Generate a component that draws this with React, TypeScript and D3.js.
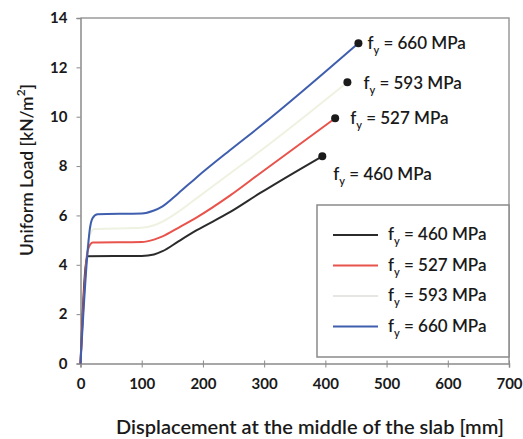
import * as d3 from 'd3';
import { useEffect, useRef } from 'react';

const X_TICKS = [0, 100, 200, 300, 400, 500, 600, 700];
const Y_TICKS = [0, 2, 4, 6, 8, 10, 12, 14];

const STEEL_GRADES = ['460', '527', '593', '660'];
const SERIES_COLORS = ['#2b2b2b', '#e8534c', '#eef2e0', '#3f5fae'];

const disp460 = [0, 11, 100, 120, 134, 160, 190, 244, 293, 395];
const load460 = [0, 4.35, 4.36, 4.42, 4.55, 4.95, 5.4, 6.13, 6.9, 8.4];

const disp527 = [0, 12, 20, 100, 120, 134, 160, 190, 244, 293, 416];
const load527 = [0, 4.6, 4.9, 4.92, 5.02, 5.15, 5.5, 5.92, 6.8, 7.7, 9.94];

const disp593 = [0, 13, 22, 100, 120, 134, 160, 190, 244, 293, 436];
const load593 = [0, 5.0, 5.45, 5.5, 5.6, 5.75, 6.15, 6.7, 7.7, 8.6, 11.4];

const disp660 = [0, 11, 15, 20, 28, 100, 120, 134, 160, 190, 244, 293, 454];
const load660 = [0, 4.35, 5.4, 5.9, 6.05, 6.08, 6.2, 6.37, 6.9, 7.55, 8.64, 9.6, 12.98];

const SERIES = [
    { disp: disp460, load: load460 },
    { disp: disp527, load: load527 },
    { disp: disp593, load: load593 },
    { disp: disp660, load: load660 },
];

const FONT = 'Lato, "Open Sans", sans-serif';

export default function App() {
    const svgRef = useRef<SVGSVGElement>(null);

    useEffect(() => {
        if (!svgRef.current) {
            return;
        }
        const svg = d3.select(svgRef.current);
        svg.selectAll('*').remove();

        const width = 523;
        const height = 439;
        const x = d3.scaleLinear().domain([0, 700]).range([80.5, 509]);
        const y = d3.scaleLinear().domain([0, 14]).range([363.5, 18]);
        const axisColor = '#8a8a8a';

        svg.attr('width', width).attr('height', height);
        svg.append('rect').attr('width', width).attr('height', height).attr('fill', '#fff');

        // plot frame (top and right)
        svg.append('path')
            .attr('d', `M${x(0)},${y(14)}H${x(700)}V${y(0)}`)
            .attr('fill', 'none')
            .attr('stroke', '#9a9a9a')
            .attr('stroke-width', 1.5);

        const xAxis = svg
            .append('g')
            .attr('transform', `translate(0,${y(0)})`)
            .call(d3.axisBottom(x).tickValues(X_TICKS).tickSize(4).tickPadding(11));
        const yAxis = svg
            .append('g')
            .attr('transform', `translate(${x(0)},0)`)
            .call(d3.axisLeft(y).tickValues(Y_TICKS).tickSize(4).tickPadding(9));

        for (const ax of [xAxis, yAxis]) {
            ax.select('.domain').attr('stroke', axisColor).attr('stroke-width', 1.5);
            ax.selectAll('.tick line').attr('stroke', axisColor);
            ax.selectAll('.tick text')
                .attr('fill', '#1a1a1a')
                .attr('font-family', FONT)
                .attr('font-weight', 700)
                .attr('font-size', 15);
        }
        xAxis.selectAll('.tick line').attr('y1', -3);

        const line = d3
            .line<[number, number]>()
            .x((d) => x(d[0]))
            .y((d) => y(d[1]))
            .curve(d3.curveMonotoneX);

        // pale series first, so the others draw on top
        [2, 0, 1, 3].forEach((i) => {
            const s = SERIES[i];
            const pts = s.disp.map((d, k) => [d, s.load[k]] as [number, number]);
            svg.append('path')
                .attr('d', line(pts))
                .attr('fill', 'none')
                .attr('stroke', SERIES_COLORS[i])
                .attr('stroke-width', 2);
        });

        const fyLabel = (g: d3.Selection<SVGTextElement, unknown, null, undefined>, grade: string) => {
            g.append('tspan').text('f');
            g.append('tspan').attr('font-size', 11).attr('dy', 5).text('y');
            g.append('tspan').attr('dy', -5).text(` = ${grade} MPa`);
        };

        // end-point markers and labels
        const labelOffsets = [
            [11, 24],
            [15, 6],
            [16, 7],
            [9, 6],
        ];
        SERIES.forEach((s, i) => {
            const n = s.disp.length - 1;
            const cx = x(s.disp[n]);
            const cy = y(s.load[n]);
            svg.append('circle').attr('cx', cx).attr('cy', cy).attr('r', 4).attr('fill', '#1a1a1a');
            const t = svg
                .append('text')
                .attr('x', cx + labelOffsets[i][0])
                .attr('y', cy + labelOffsets[i][1])
                .attr('font-family', FONT)
                .attr('font-weight', 600)
                .attr('font-size', 17)
                .attr('fill', '#1a1a1a');
            fyLabel(t, STEEL_GRADES[i]);
        });

        // legend
        const lg = svg.append('g').attr('transform', 'translate(317,205)');
        lg.append('rect')
            .attr('width', 192)
            .attr('height', 152)
            .attr('fill', '#fff')
            .attr('stroke', '#8a8a8a')
            .attr('stroke-width', 1.5);
        STEEL_GRADES.forEach((grade, i) => {
            const ly = 30 + i * 30.5;
            lg.append('line')
                .attr('x1', 16)
                .attr('x2', 61)
                .attr('y1', ly)
                .attr('y2', ly)
                .attr('stroke', i === 2 ? '#e6e6e2' : SERIES_COLORS[i])
                .attr('stroke-width', 2);
            const t = lg
                .append('text')
                .attr('x', 71)
                .attr('y', ly + 5)
                .attr('font-family', FONT)
                .attr('font-weight', 600)
                .attr('font-size', 17)
                .attr('fill', '#1a1a1a');
            fyLabel(t, grade);
        });

        // axis titles
        svg.append('text')
            .attr('x', 310)
            .attr('y', 434)
            .attr('text-anchor', 'middle')
            .attr('font-family', FONT)
            .attr('font-weight', 600)
            .attr('font-size', 20)
            .attr('fill', '#1a1a1a')
            .text('Displacement at the middle of the slab [mm]');

        const yt = svg
            .append('text')
            .attr('transform', 'translate(33,170) rotate(-90)')
            .attr('text-anchor', 'middle')
            .attr('font-family', FONT)
            .attr('font-weight', 600)
            .attr('font-size', 17.5)
            .attr('fill', '#1a1a1a');
        yt.append('tspan').text('Uniform Load [kN/m');
        yt.append('tspan').attr('font-size', 12).attr('dy', -8).text('2');
        yt.append('tspan').attr('dy', 8).text(']');
    }, []);

    return <svg ref={svgRef} style={{ position: 'absolute', left: 0, top: 0, display: 'block' }} />;
}
